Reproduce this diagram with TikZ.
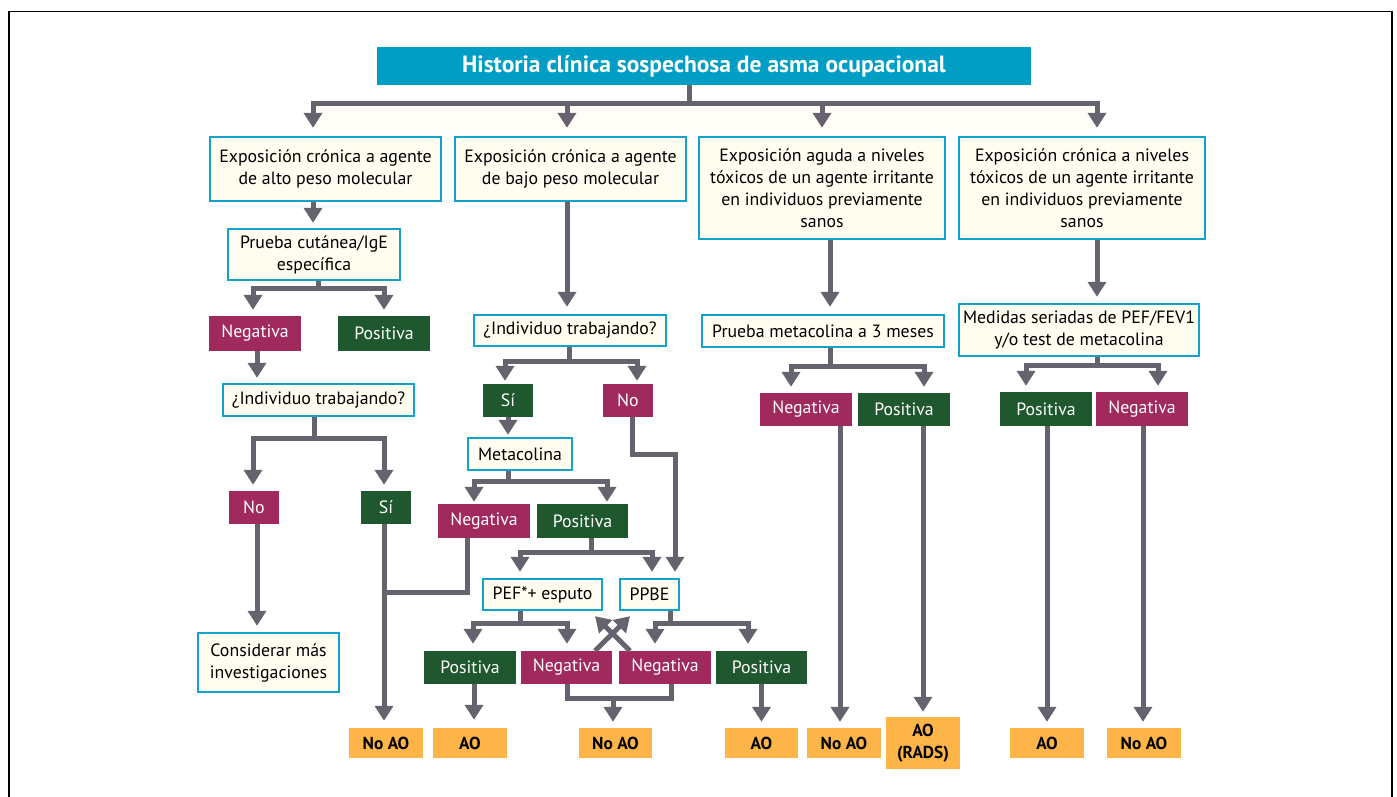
\documentclass[tikz,border=0pt]{standalone}
\usepackage{fontspec}
\setmainfont{PT Sans}
\usetikzlibrary{arrows.meta}
\definecolor{tblue}{RGB}{0,157,197}
\definecolor{bcyan}{RGB}{18,163,204}
\definecolor{cream}{RGB}{255,253,240}
\definecolor{mag}{RGB}{160,41,94}
\definecolor{grn}{RGB}{31,88,47}
\definecolor{org}{RGB}{253,180,72}
\definecolor{gr}{RGB}{102,99,110}
\begin{document}
\begin{tikzpicture}[x=1pt,y=-1pt,
  box/.style={draw=bcyan, line width=2.4pt, fill=cream, inner sep=0pt, align=center,
    font=\fontsize{17.8}{22}\selectfont, text=black},
  ttl/.style={fill=tblue, text=white, inner sep=0pt, font=\bfseries\fontsize{23.5}{26}\selectfont},
  negbox/.style={fill=mag, text=white, inner sep=0pt, font=\fontsize{17.8}{20}\selectfont},
  posbox/.style={fill=grn, text=white, inner sep=0pt, font=\fontsize{17.8}{20}\selectfont},
  resbox/.style={fill=org, text=black, inner sep=0pt, align=center, font=\bfseries\fontsize{17.3}{22}\selectfont},
  ln/.style={draw=gr, line width=5pt},
  arr/.style={ln, -{Triangle[width=18pt,length=15pt]}},
  frm/.style={draw=black, line width=1.1pt}
]
\useasboundingbox (0,0) rectangle (1397,796);
\fill[white] (0,0) rectangle (1397,796);
\draw[frm] (9,798) -- (9,11.5) -- (1392,11.5) -- (1392,798);
\fill[cream!60!white] (313,103) rectangle (1097,130);

% nodes
\node[ttl, minimum width=654pt, minimum height=38pt] (T) at (704,66) {Historia clínica sospechosa de asma ocupacional};

\node[box, minimum width=231pt, minimum height=64pt] (A1) at (325.5,169) {Exposición crónica a agente\\de alto peso molecular};
\node[box, minimum width=231pt, minimum height=64pt] (A2) at (570.5,169) {Exposición crónica a agente\\de bajo peso molecular};
\node[box, minimum width=246pt, minimum height=102pt] (A3) at (822,188) {Exposición aguda a niveles\\tóxicos de un agente irritante\\en individuos previamente\\sanos};
\node[box, minimum width=246pt, minimum height=102pt] (A4) at (1082,188) {Exposición crónica a niveles\\tóxicos de un agente irritante\\en individuos previamente\\sanos};

\node[box, minimum width=172pt, minimum height=51pt] (B1) at (314,254.5) {Prueba cutánea/IgE\\específica};
\node[negbox, minimum width=92pt, minimum height=35pt] (NegL1) at (255,333.5) {Negativa};
\node[posbox, minimum width=92pt, minimum height=35pt] (PosL1) at (384,333.5) {Positiva};
\node[box, minimum width=191pt, minimum height=32pt] (C1) at (318.5,400) {¿Individuo trabajando?};
\node[negbox, minimum width=50pt, minimum height=33pt] (NoL) at (254,507.5) {No};
\node[posbox, minimum width=50pt, minimum height=33pt] (SiL) at (386,507.5) {Sí};
\node[box, minimum width=141pt, minimum height=59pt] (Cons) at (268.5,662.5) {Considerar más\\investigaciones};
\node[resbox, minimum width=74pt, minimum height=30pt] (NoAO1) at (386,743) {No AO};

\node[box, minimum width=192pt, minimum height=31pt] (C2) at (570,330.5) {¿Individuo trabajando?};
\node[posbox, minimum width=50pt, minimum height=33pt] (SiM) at (508,400.5) {Sí};
\node[negbox, minimum width=50pt, minimum height=33pt] (NoM) at (628,400.5) {No};
\node[box, minimum width=104pt, minimum height=32pt] (Meta) at (520,454) {Metacolina};
\node[negbox, minimum width=92pt, minimum height=34pt] (NegM) at (484,521) {Negativa};
\node[posbox, minimum width=91pt, minimum height=34pt] (PosM) at (582.5,521) {Positiva};
\node[box, minimum width=119pt, minimum height=31pt] (PEF) at (542.5,594.5) {PEF*+ esputo};
\node[box, minimum width=59pt, minimum height=31pt] (PPBE) at (649.5,594.5) {PPBE};
\node[posbox, minimum width=92pt, minimum height=33pt] (P1) at (470,667.5) {Positiva};
\node[negbox, minimum width=91pt, minimum height=33pt] (P2) at (566.5,667.5) {Negativa};
\node[negbox, minimum width=92pt, minimum height=33pt] (P3) at (665,667.5) {Negativa};
\node[posbox, minimum width=91pt, minimum height=33pt] (P4) at (761.5,667.5) {Positiva};
\node[resbox, minimum width=74pt, minimum height=30pt] (AO1) at (470,743) {AO};
\node[resbox, minimum width=73pt, minimum height=30pt] (NoAO2) at (615.5,743) {No AO};
\node[resbox, minimum width=73pt, minimum height=30pt] (AO2) at (761.5,743) {AO};

\node[box, minimum width=242pt, minimum height=32pt] (Prueba) at (823,331) {Prueba metacolina a 3 meses};
\node[negbox, minimum width=92pt, minimum height=33pt] (NegR1) at (806,409.5) {Negativa};
\node[posbox, minimum width=92pt, minimum height=33pt] (PosR1) at (904,409.5) {Positiva};
\node[resbox, minimum width=74pt, minimum height=30pt] (NoAO3) at (844,743) {No AO};
\node[resbox, minimum width=74pt, minimum height=52pt] (RADS) at (923,743) {AO\\(RADS)};

\node[box, minimum width=240pt, minimum height=52pt] (Med) at (1079,330) {Medidas seriadas de PEF/FEV1\\y/o test de metacolina};
\node[posbox, minimum width=92pt, minimum height=34pt] (PosR2) at (1046,409) {Positiva};
\node[negbox, minimum width=92pt, minimum height=34pt] (NegR2) at (1142,409) {Negativa};
\node[resbox, minimum width=74pt, minimum height=30pt] (AO3) at (1047,743) {AO};
\node[resbox, minimum width=74pt, minimum height=30pt] (NoAO4) at (1144,743) {No AO};

% coordinates
\coordinate (t0) at (689,103);
\coordinate (s1) at (318,288);
\coordinate (s2) at (314,438);
\coordinate (j1) at (384,592);
\coordinate (s3) at (569,361);
\coordinate (s4) at (508,481);
\coordinate (s5) at (591,552);
\coordinate (c1) at (675,454);
\coordinate (s6) at (520,623);
\coordinate (s7) at (670,623);
\coordinate (m1) at (613,698);
\coordinate (s8) at (830,366);
\coordinate (s9) at (1097,365);

% connectors
\draw[ln] (T.south -| t0) -- (t0);
\draw[arr, shorten >=8pt] (t0) -| ([xshift=-12.5pt]A1.north);
\draw[arr, shorten >=8pt] (t0) -| ([xshift=-3.5pt]A2.north);
\draw[arr, shorten >=8pt] (t0) -| (A3.north);
\draw[arr, shorten >=8pt] (t0) -| ([xshift=15pt]A4.north);

\draw[arr, shorten >=5pt] ([xshift=-12.5pt]A1.south) -- ([xshift=-1pt]B1.north);
\draw[ln] (B1.south -| s1) -- (s1);
\draw[arr, shorten >=6pt] (s1) -| ([xshift=-2pt]NegL1.north);
\draw[arr, shorten >=6pt] (s1) -| (PosL1.north);
\draw[arr, shorten >=5pt] ([xshift=2pt]NegL1.south) -- ([xshift=2pt]NegL1.south |- C1.north);
\draw[ln] (C1.south -| s2) -- (s2);
\draw[arr, shorten >=6pt] (s2) -| ([xshift=-1pt]NoL.north);
\draw[arr, shorten >=6pt] (s2) -| ([xshift=-2pt]SiL.north);
\draw[arr, shorten >=6pt] ([xshift=3pt]NoL.south) -- ([xshift=3pt]NoL.south |- Cons.north);
\draw[arr, shorten >=7pt] ([xshift=-2pt]SiL.south) -- ([xshift=-2pt]NoAO1.north);
\draw[ln] ([xshift=-17pt]NegM.south) |- (j1);

\draw[arr, shorten >=7pt] ([xshift=-3.5pt]A2.south) -- ([xshift=-3pt]C2.north);
\draw[ln] (C2.south -| s3) -- (s3);
\draw[arr, shorten >=3pt] (s3) -| ([xshift=-3pt]SiM.north);
\draw[arr, shorten >=3pt] (s3) -| ([xshift=9pt]NoM.north);
\draw[arr, shorten >=2pt] (SiM.south) -- (SiM.south |- Meta.north);
\draw[ln] (Meta.south -| s4) -- (s4);
\draw[arr, shorten >=2pt] (s4) -| ([xshift=-10pt]NegM.north);
\draw[arr, shorten >=2pt] (s4) -| ([xshift=24.5pt]PosM.north);
\draw[ln] (PosM.south -| s5) -- (s5);
\draw[arr, shorten >=6pt] (s5) -| ([xshift=-22.5pt]PEF.north);
\draw[arr, shorten >=6pt] (s5) -| ([xshift=2.5pt]PPBE.north);
\draw[arr, shorten >=6pt] ([xshift=4pt]NoM.south) |- (c1) -- ([xshift=25.5pt]PPBE.north);

\draw[ln] (PEF.south -| s6) -- (s6);
\draw[arr, shorten >=7pt] (s6) -| ([xshift=3pt]P1.north);
\draw[arr, shorten >=7pt] (s6) -| ([xshift=0.5pt]P2.north);
\draw[ln] (PPBE.south -| s7) -- (s7);
\draw[arr, shorten >=7pt] (s7) -| ([xshift=-10pt]P3.north);
\draw[arr, shorten >=7pt] (s7) -| ([xshift=-13.5pt]P4.north);
\draw[arr] ([xshift=28.5pt]P2.north) -- ([xshift=-19.5pt,yshift=-5pt]PPBE.south);
\draw[arr] ([xshift=-35pt]P3.north) -- ([xshift=52.5pt,yshift=-5pt]PEF.south);

\draw[arr, shorten >=8pt] ([xshift=4pt]P1.south) -- ([xshift=4pt]AO1.north);
\draw[ln] ([xshift=0.5pt]P2.south) |- (m1) -| ([xshift=6pt]P3.south);
\draw[arr, shorten >=6pt] (m1) -- (m1 |- NoAO2.north);
\draw[arr, shorten >=6pt] (P4.south) -- (AO2.north);

\draw[arr, shorten >=7pt] ([xshift=8pt]A3.south) -- ([xshift=7pt]Prueba.north);
\draw[ln] (Prueba.south -| s8) -- (s8);
\draw[arr, shorten >=6pt] (s8) -| ([xshift=-15pt]NegR1.north);
\draw[arr, shorten >=6pt] (s8) -| ([xshift=20pt]PosR1.north);
\draw[arr, shorten >=6pt] ([xshift=34pt]NegR1.south) -- ([xshift=-4pt]NoAO3.north);
\draw[arr, shorten >=5pt] ([xshift=19pt]PosR1.south) -- (RADS.north);

\draw[arr, shorten >=6pt] ([xshift=15pt]A4.south) -- ([xshift=18pt]Med.north);
\draw[ln] (Med.south -| s9) -- (s9);
\draw[arr, shorten >=6pt] (s9) -| ([xshift=-20pt]PosR2.north);
\draw[arr, shorten >=6pt] (s9) -| ([xshift=16pt]NegR2.north);
\draw[arr, shorten >=6pt] ([xshift=1pt]PosR2.south) -- (AO3.north);
\draw[arr, shorten >=6pt] ([xshift=1pt]NegR2.south) -- ([xshift=-1pt]NoAO4.north);
\end{tikzpicture}
\end{document}
